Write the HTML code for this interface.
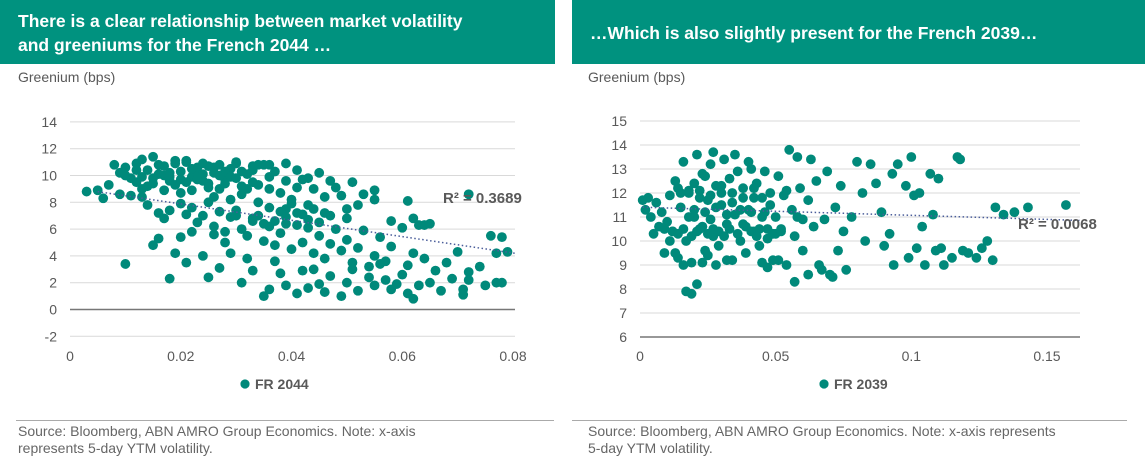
<!DOCTYPE html>
<html><head><meta charset="utf-8"><style>
body{margin:0;width:1145px;height:467px;background:#fff;font-family:"Liberation Sans",Arial,sans-serif;overflow:hidden;position:relative}
.hdr{position:absolute;top:0;height:64px;background:#00927f;color:#fff;font-weight:bold;font-size:17.5px;line-height:24px;box-sizing:border-box;padding:9px 0 0 18px}
.src{position:absolute;top:420px;font-size:14px;color:#666;line-height:17px;border-top:1.5px solid #aaa;padding-top:2px;box-sizing:border-box}
svg{position:absolute;left:0;top:0}
</style></head><body>
<div class="hdr" style="left:0;width:555px">There is a clear relationship between market volatility<br>and greeniums for the French 2044 …</div>
<div class="hdr" style="left:572px;width:573px;padding-top:21px">…Which is also slightly present for the French 2039…</div>
<div class="src" style="left:16px;width:538px;padding-left:2px;padding-right:90px">Source: Bloomberg, ABN AMRO Group Economics. Note: x-axis represents 5-day YTM volatility.</div>
<div class="src" style="left:572px;width:555px;padding-left:16px;padding-right:60px">Source: Bloomberg, ABN AMRO Group Economics. Note: x-axis represents 5-day YTM volatility.</div>
<svg id="chart" width="1145" height="467"></svg>
<script>
const leftX=[0.003,0.005,0.006,0.007,0.008,0.009,0.010,0.011,0.012,0.013,0.014,0.015,0.016,0.017,0.018,0.019,0.020,0.021,0.022,0.023,0.024,0.025,0.026,0.027,0.028,0.029,0.030,0.031,0.032,0.033,0.034,0.035,0.036,0.037,0.039,0.041,0.043,0.045,0.047,0.049,0.051,0.053,0.055,
0.013,0.014,0.016,0.017,0.018,0.020,0.021,0.022,0.023,0.024,0.025,0.026,0.027,0.028,0.029,0.030,0.031,0.032,0.033,0.034,0.035,0.036,0.037,0.038,0.039,0.040,0.041,0.042,0.043,0.044,0.045,0.046,0.047,0.048,0.049,0.050,0.051,0.052,0.053,0.054,0.055,0.056,0.057,0.058,0.060,0.061,0.062,0.063,0.064,0.065,0.066,0.068,0.070,0.072,0.074,0.076,0.077,0.078,0.079,
0.010,0.018,0.016,0.015,0.019,0.021,0.025,0.027,0.029,0.031,0.032,0.033,0.035,0.036,0.037,0.038,0.039,0.041,0.042,0.043,0.044,0.045,0.046,0.047,0.049,0.050,0.051,0.052,0.054,0.055,0.056,0.057,0.058,0.059,0.060,0.061,0.062,0.063,0.065,0.067,0.069,0.071,0.071,0.072,0.075,0.077,0.078,
0.036,0.038,0.040,0.042,0.044,0.046,0.048,0.050,0.052,0.055,0.058,0.061,0.062,0.064,0.072,0.039,0.043,0.047,0.050,
0.009,0.011,0.012,0.014,0.015,0.017,0.019,0.020,0.022,0.024,0.026,0.027,0.029,0.031,0.033,0.034,0.017,0.019,0.021,0.023,0.026,0.028,0.030,0.033,0.036,0.039,0.041,0.026,0.028,0.024,0.022,0.020,
0.010,0.012,0.013,0.016,0.018,0.020,0.022,0.024,0.025,0.027,0.029,0.031,0.013,0.015,0.018,0.021,0.023,0.025,0.028,0.030,0.032,0.034,0.036,0.038,0.040,0.042,0.044,0.046,0.030,0.033,0.035,0.037,0.039,0.041,0.043,0.045];
const leftY=[8.8,8.9,8.3,9.3,10.8,10.2,10.6,9.8,10.9,11.2,10.4,11.4,10.1,10.7,9.6,10.9,10.3,11.0,9.9,10.6,10.9,9.4,10.2,10.8,9.7,10.5,10.9,9.2,10.1,10.7,10.8,10.8,9.9,10.3,9.6,10.4,9.8,10.2,9.6,8.5,9.5,8.6,8.9,
8.4,7.8,7.2,6.8,7.4,7.9,7.1,7.6,6.5,7.0,8.0,6.2,7.3,5.8,6.9,7.4,6.0,5.5,6.6,7.0,5.1,6.2,4.8,5.7,6.4,4.5,7.2,5.0,6.1,4.2,5.5,3.8,4.9,6.0,4.4,5.2,3.5,4.6,5.9,3.2,4.0,5.4,3.6,4.7,6.1,3.3,4.2,6.3,3.8,6.4,2.9,3.5,4.3,2.8,3.2,5.5,4.2,5.4,4.3,
3.4,2.3,5.3,4.8,4.2,3.5,2.4,3.1,4.2,2.0,3.8,2.9,1.0,1.5,3.6,2.7,1.8,1.2,2.9,1.6,3.0,1.9,1.3,2.5,1.0,2.0,3.0,1.4,2.4,1.8,3.4,2.2,1.5,1.9,2.6,1.2,0.8,1.8,2.0,1.4,2.3,1.1,1.5,2.2,1.8,2.0,2.0,
9.0,8.7,8.2,9.7,9.0,8.4,9.1,7.5,7.8,8.2,6.6,8.1,6.8,6.3,8.6,7.5,7.8,7.0,6.8,
8.6,8.5,9.5,9.2,9.8,8.9,9.3,8.7,8.9,9.6,8.4,9.0,8.2,8.6,9.5,8.0,10.0,11.1,11.1,10.2,10.6,10.3,11.0,10.4,10.8,10.9,9.1,5.6,5.0,4.0,5.8,5.4,
10.0,10.4,9.9,10.8,10.2,9.7,10.5,10.1,10.7,10.0,9.9,10.3,9.0,9.4,9.9,9.5,9.7,9.1,9.4,9.8,9.0,9.3,7.6,7.3,7.9,7.1,7.5,7.2,7.0,6.8,6.4,6.6,6.9,6.3,6.7,6.5];
const rightX=[0.001,0.002,0.003,0.004,0.005,0.006,0.007,0.008,0.009,0.010,0.011,0.012,0.013,0.014,0.015,0.016,0.017,0.018,0.019,0.020,0.021,0.022,0.023,0.024,0.025,0.026,0.027,0.028,0.029,0.030,0.031,0.032,0.033,0.034,0.035,0.036,0.037,0.038,0.039,0.040,0.041,0.042,0.043,0.044,0.045,0.046,0.047,0.048,0.049,0.050,0.051,0.052,0.053,0.054,0.055,0.056,0.057,0.058,0.059,0.060,0.062,0.063,0.064,0.065,0.066,0.067,0.068,0.069,0.070,0.072,0.073,0.074,0.075,0.076,0.078,0.080,0.082,0.083,0.085,0.087,0.089,0.090,0.092,0.093,0.095,0.0935,0.098,0.099,0.100,0.101,0.102,0.103,0.104,0.105,0.107,0.108,0.110,0.111,
0.117,0.118,0.121,0.124,0.126,0.128,0.130,0.131,0.134,0.138,0.143,0.157,0.119,0.115,0.112,0.109,
0.017,0.019,0.021,0.013,0.016,0.023,0.025,0.028,0.032,0.045,0.047,0.057,0.062,0.071,0.051,0.009,0.011,
0.015,0.018,0.020,0.022,0.024,0.026,0.030,0.034,0.038,0.042,0.044,0.046,0.050,0.054,0.035,0.027,0.040,0.058,0.060,
0.012,0.014,0.016,0.019,0.021,0.023,0.025,0.027,0.029,0.031,0.033,0.036,0.039,0.041,0.043,0.047,0.049,0.052,0.020,0.024,0.028,0.032,0.037,0.041,0.045,0.014,0.018,0.022,0.026,0.030,0.034,0.038,0.042,0.048];
const rightY=[11.7,11.3,11.8,11.0,10.3,11.6,10.6,11.2,9.5,10.8,11.9,10.4,12.5,9.3,11.4,13.3,10.0,12.1,9.1,11.0,13.6,10.5,12.8,9.6,11.7,13.2,10.2,12.3,9.8,11.5,13.4,10.7,12.6,9.2,11.1,12.9,10.0,12.2,9.5,11.3,13.0,10.4,12.4,9.8,11.8,12.9,10.1,11.5,9.2,11.0,12.7,10.5,11.9,9.0,13.8,11.3,10.2,13.5,12.2,9.6,11.7,13.4,10.6,12.5,9.0,8.8,10.9,12.9,8.6,11.4,9.6,12.3,10.4,8.8,11.0,13.3,12.0,10.0,13.2,12.4,11.2,9.8,10.3,12.8,13.2,9.0,12.3,9.3,13.5,11.9,9.7,12.0,10.6,9.0,12.8,11.1,12.6,9.7,
13.5,13.4,9.5,9.3,9.7,10.0,9.2,11.4,11.1,11.2,11.4,11.5,9.6,9.3,9.0,9.6,
7.9,7.8,8.2,9.5,9.0,9.1,9.4,9.0,9.2,9.1,8.9,8.3,8.6,8.5,9.2,10.5,10.0,
12.0,11.0,12.4,11.8,12.7,10.9,12.0,11.6,10.7,11.8,10.5,11.2,10.3,12.1,13.6,13.7,13.3,11.0,10.9,
10.4,10.3,10.5,10.2,10.4,10.6,10.3,10.5,10.4,10.2,10.5,10.3,10.6,10.4,10.2,10.5,10.3,10.4,11.3,11.2,11.4,11.1,11.3,11.2,11.0,12.2,12.0,12.1,11.9,12.3,12.0,11.8,12.2,12.0];
const leftYTicks=[14,12,10,8,6,4,2,0,-2];
const leftXTicks=[0,0.02,0.04,0.06,0.08];
const leftXLabels=["0","0.02","0.04","0.06","0.08"];
const rightYTicks=[15,14,13,12,11,10,9,8,7,6];
const rightXTicks=[0,0.05,0.1,0.15];
const rightXLabels=["0","0.05","0.1","0.15"];
const leftTrend=[9.1,-61];
const rightTrend=[11.41,-3.4];

const NS="http://www.w3.org/2000/svg";
const svg=document.getElementById('chart');
function mk(tag,attrs,parent){const e=document.createElementNS(NS,tag);for(const k in attrs)e.setAttribute(k,attrs[k]);(parent||svg).appendChild(e);return e;}
const L={sx:v=>70+v*5537.5,sy:v=>309.5-v*13.4,x0:70,x1:515,xmax:0.0804};
const R={sx:v=>640+v*2713,sy:v=>337-(v-6)*24,x0:640,x1:1080,xmax:0.162};
function drawAxes(C,yt,xt,xl,base,tag){
  yt.forEach(t=>{
    const ln=mk('line',{x1:C.x0,x2:C.x1,y1:C.sy(t),y2:C.sy(t),stroke:t===base?'#777':'#d9d9d9','stroke-width':t===base?1.5:1});
    
    
    const tx=mk('text',{x:C.x0-13,y:C.sy(t)+5,'text-anchor':'end','font-size':14,fill:'#595959'});
    tx.textContent=t;
    
    
  });
  xt.forEach((t,i)=>{
    const tx=mk('text',{x:C.sx(t),y:361,'text-anchor':'middle','font-size':14,fill:'#595959'});
    tx.textContent=xl[i];
    
    
  });
}
function drawPts(C,xs,ys,tag){
  xs.forEach((x,i)=>{
    const c=mk('circle',{cx:C.sx(x),cy:C.sy(ys[i]),r:4.9,fill:'#00897a'});
    
    
  });
}
function drawTrend(C,tr,xa,tag){
  const l=mk('line',{x1:C.sx(xa),y1:C.sy(tr[0]+tr[1]*xa),x2:C.sx(C.xmax),y2:C.sy(tr[0]+tr[1]*C.xmax),stroke:'#4a5d9a','stroke-width':1.5,'stroke-dasharray':'1.5 2.5'});
  
  
}
drawAxes(L,leftYTicks,leftXTicks,leftXLabels,0,'left');
drawAxes(R,rightYTicks,rightXTicks,rightXLabels,6,'right');
drawPts(L,leftX,leftY,'fr2044');
drawPts(R,rightX,rightY,'fr2039');
drawTrend(L,leftTrend,0.005,'left');
drawTrend(R,rightTrend,0.001,'right');
function txt(x,y,s,sz,fill,name,anchor,bold){
  const t=mk('text',{x:x,y:y,'font-size':sz,fill:fill,'text-anchor':anchor||'start','font-weight':bold?'bold':'normal'});
  t.textContent=s;
  
  
}
txt(18,82,'Greenium (bps)',14,'#595959','left-y-axis-title');
txt(588,82,'Greenium (bps)',14,'#595959','right-y-axis-title');
txt(443,203,'R² = 0.3689',15,'#595959','left-r-squared',null,true);
txt(1018,229,'R² = 0.0068',15,'#595959','right-r-squared',null,true);
const lg1=mk('circle',{cx:245,cy:384,r:4.6,fill:'#00897a'});


txt(255,389,'FR 2044',14,'#595959','legend-fr2044',null,true);
const lg2=mk('circle',{cx:824,cy:384,r:4.6,fill:'#00897a'});


txt(834,389,'FR 2039',14,'#595959','legend-fr2039',null,true);
</script>
</body></html>
